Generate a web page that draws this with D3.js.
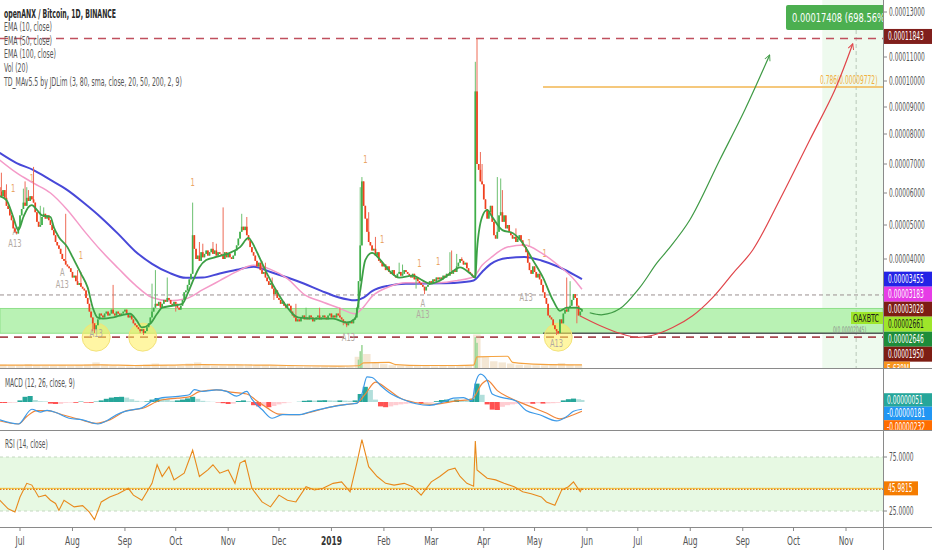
<!DOCTYPE html>
<html><head><meta charset="utf-8">
<script src="https://cdn.jsdelivr.net/npm/d3@7"></script>
<style>
html,body{margin:0;padding:0;background:#fff;}
svg{display:block;font-family:"Liberation Sans Narrow","DejaVu Sans Condensed","Liberation Sans",sans-serif;}
</style></head><body>
<svg id="c" width="932" height="550"></svg>
<script>
// ---------------- DATA (prices in satoshi = 1e-8 BTC) ----------------
const startDate = "2018-06-19";
const firstOpen = 6200;
const closes = [
6050,5900,6100,5850,5600,5500,5300,5150,4900,4800,4750,
4950,5300,5500,5700,5600,5850,5750,5900,5800,5700,
5400,5100,4950,5000,5250,5350,5200,5300,5150,5000,
4850,4700,4500,4400,4300,4150,4000,3950,3850,3800,
3750,3650,3500,3550,3400,3300,3350,3250,3200,3150,
2950,2800,2600,2450,2300,2150,2250,2400,2550,2500,
2450,2550,2600,2500,2550,2650,2550,2500,2600,2550,
2500,2550,2600,2650,2550,2450,2500,2400,2300,2250,
2200,2150,2100,2150,2050,2100,2200,2300,2450,2600,
2700,2800,2750,2850,2700,2800,2900,2850,2950,2900,
2800,2750,2850,2800,2700,2650,2750,2900,3100,3150,
3300,3450,3600,4700,4300,4000,4100,3950,4200,4050,
4150,4250,4100,4200,4300,4150,4250,4100,4200,4150,
4100,4000,4200,4050,4150,4050,4000,4100,4250,4400,
4600,4800,4950,4850,4950,4700,4550,4350,4200,4100,
3950,3800,3900,3700,3600,3650,3500,3400,3300,3350,
3200,3050,3150,2950,2900,2800,2850,2750,2700,2800,
2750,2600,2500,2450,2350,2400,2350,2450,2500,2400,
2450,2400,2500,2450,2350,2400,2450,2500,2400,2450,
2500,2450,2400,2500,2550,2450,2500,2450,2550,2500,
2450,2400,2350,2300,2250,2300,2350,2300,2400,2450,
2700,3400,4400,6400,
5600,5200,4800,4500,4400,4250,
4300,4100,4200,3950,3900,3800,3850,3700,3800,3650,
3600,3700,3550,3500,3600,3650,3550,3600,3700,3650,
3600,3550,3500,3600,3450,3500,3400,3350,3300,3250,
3150,3250,3300,3400,3350,3450,3400,3500,3450,3500,
3450,3550,3500,3600,3550,3650,3600,3700,3650,3800,
3900,4000,3950,3850,3900,3750,3650,3600,3550,3500,
9600,7000,
6800,6400,6300,5800,5500,5200,5400,5600,
5100,4700,4600,4800,5300,5400,5100,5300,4900,5000,
4800,4700,4600,4650,4500,4600,4700,4550,4400,4350,
4200,3900,3700,3600,3800,3650,3500,3600,3450,3300,
3100,2950,2800,2500,2450,2400,2250,2150,2100,2050,
2400,2300,2550,2650,2600,2700,2750,2900,3050,2950,
2750,2500,2600,2661];
const wickHighs = [[1,6700],[4,6300],[14,6150],[15,6400],[16,6200],[17,6100],[20,6900],[24,5600],[26,5550],[31,5000],[39,5350],[46,3700],[48,3650],[67,3300],[90,3334],[92,3700],[99,3500],[114,5700],[118,4500],[120,4450],[126,4500],[128,4450],[132,5550],[143,5350],[146,5250],[155,3950],[157,3900],[161,3500],[175,2800],[181,2700],[189,2700],[201,2700],[213,6200],[214,6550],[218,5400],[222,4650],[236,3900],[238,3850],[266,4200],[267,4250],[270,4150],[273,4050],[281,10800],[282,11843],[284,7400],[285,7000],[294,6550],[296,6500],[297,6100],[305,4900],[335,3500],[337,3400]];
const wickLows = [[55,2100],[56,2050],[83,2050],[85,2000],[104,2600],[162,2900],[203,2250],[205,2200],[246,3200],[251,3050],[329,2000],[330,2020],[341,2300]];

const ema10 = [[0,5900],[4,5780],[8,5250],[11,4850],[14,5250],[17,5560],[19,5620],[22,5470],[25,5300],[30,5250],[32,4930],[35,4640],[40,4350],[43,4060],[48,3607],[52,3226],[55,2700],[58,2443],[61,2420],[66,2443],[71,2495],[77,2545],[81,2368],[84,2193],[89,2292],[93,2545],[96,2700],[102,2750],[108,2800],[111,3065],[115,3497],[118,3775],[122,3970],[128,4060],[136,4180],[142,4350],[147,4620],[149,4500],[152,4200],[158,3600],[164,3100],[170,2700],[173,2545],[177,2443],[187,2420],[197,2420],[205,2320],[210,2420],[213,3145],[216,3970],[220,4180],[225,3970],[230,3690],[236,3497],[244,3550],[250,3415],[254,3334],[260,3415],[266,3607],[272,3775],[278,3607],[281,3497],[282,4265],[285,5250],[288,5470],[291,5250],[297,4850],[303,4765],[309,4470],[315,3970],[321,3497],[327,2881],[331,2621],[335,2700],[341,2700],[344,2646]];
const ema50 = [[0,7130],[10,6690],[20,6340],[30,6000],[40,5470],[50,4820],[60,4240],[70,3750],[80,3300],[90,2960],[100,2880],[110,2930],[120,3170],[130,3415],[140,3660],[150,3830],[160,3720],[170,3470],[180,3040],[190,2860],[200,2700],[210,2545],[215,2720],[220,2990],[230,3250],[240,3360],[250,3360],[260,3360],[270,3415],[280,3520],[285,3830],[290,4030],[300,4350],[310,4410],[320,4180],[330,3830],[340,3415],[344,3183]];
const ema100 = [[0,7370],[10,7030],[20,6790],[30,6450],[40,6100],[50,5680],[60,5230],[70,4740],[80,4230],[90,3870],[100,3630],[110,3490],[120,3500],[130,3610],[140,3710],[150,3790],[160,3650],[170,3500],[180,3330],[190,3140],[200,2970],[210,2890],[215,2960],[220,3130],[230,3280],[240,3330],[250,3335],[260,3345],[270,3360],[280,3420],[285,3650],[290,3860],[300,4030],[310,4060],[320,3960],[330,3790],[340,3560],[344,3455]];

// volume in millions of OAX
const volume5d = [6,5,5,7,5,4,4,5,4,5,6,10,6,4,3,3,4,6,8,5,4,4,8,10,5,4,4,5,6,7,5,5,4,4,4,3,3,3,3,3,3,3,20,25,10,7,5,4,4,4,4,3,4,5,5,4,60,20,12,10,8,6,5,5,5,7,9,6,5];
const volumeSpikes = [[212,15],[213,30],[214,41],[281,55],[282,45]];
const volMA = [[0,5],[20,5],[40,5],[60,5.5],[80,4.5],[100,5],[120,6],[140,5.5],[160,5],[180,4],[200,3.5],[212,4],[215,9],[230,10],[234,6],[250,4.5],[270,4.5],[280,5],[282,20],[300,21],[303,10],[320,6.5],[344,5.638]];

// MACD (12,26,9), satoshi
const macdLine = [[0,-447],[11,-550],[19,-181],[24,-251],[28,-207],[34,-276],[41,-406],[49,-447],[58,-550],[63,-473],[69,-318],[74,-233],[79,-189],[84,-147],[90,26],[96,111],[102,129],[108,155],[112,181],[115,310],[120,266],[128,302],[134,266],[140,147],[146,266],[149,70],[155,-189],[161,-406],[167,-318],[177,-318],[183,-251],[195,-129],[205,-59],[211,-34],[214,199],[217,628],[220,612],[225,413],[230,240],[238,70],[246,-44],[254,-85],[262,0],[268,96],[274,111],[279,26],[281,457],[284,698],[288,543],[291,199],[297,111],[305,26],[311,-214],[319,-318],[329,-473],[335,-362],[339,-233],[344,-181]];
const signalLine = [[0,-473],[11,-550],[16,-362],[22,-214],[28,-214],[37,-318],[47,-432],[57,-535],[65,-447],[75,-214],[84,-163],[95,44],[105,96],[112,129],[118,258],[128,302],[138,240],[146,199],[152,26],[158,-147],[165,-302],[177,-318],[187,-214],[201,-78],[211,-26],[216,199],[222,499],[229,328],[236,111],[246,-18],[256,-59],[270,26],[279,70],[285,457],[288,543],[294,284],[301,111],[313,-103],[323,-276],[331,-421],[339,-318],[344,-232]];
const histStep = 3;
const macdHist = [-25,-25,-20,-15,40,130,150,50,20,15,-40,-50,-45,-20,-15,-20,10,-15,-20,10,40,80,110,125,130,110,70,30,10,15,60,100,95,70,30,40,60,90,130,80,30,10,5,-10,-30,-50,-40,25,40,20,-80,-110,-100,-130,-100,-60,-30,-10,0,5,30,40,35,40,45,40,35,40,35,30,40,200,380,300,60,-110,-130,-110,-80,-60,-45,-35,-30,-30,-25,-20,20,50,60,55,60,45,40,80,460,180,-60,-190,-200,-120,-80,-60,-45,-40,-35,-45,-30,-40,-35,-30,-20,40,70,85,70];
const histLast = [344,51];

// RSI (14)
const rsi = [[0,35],[5,27],[9,24],[12,38],[16,50.6],[19,49],[23,38],[27,39.7],[30,35],[33,32],[35,25.6],[38,35],[44,28.8],[49,30],[53,24],[56,17],[60,33.4],[65,38],[70,41],[76,46],[79,39.7],[84,35],[90,50.6],[93,67.8],[96,56.9],[100,66],[103,53.8],[109,60],[114,81.3],[118,56.9],[123,63],[126,67.8],[130,60],[135,63],[139,50.6],[142,69.4],[145,71.9],[149,46],[155,33.4],[160,28.8],[165,39.7],[170,35],[175,33.4],[181,47.5],[186,44.4],[191,46],[197,50.6],[202,52],[207,42.8],[211,69.4],[214,91],[218,66],[223,56.9],[228,50.6],[233,49],[239,50.6],[244,47.5],[249,39.7],[255,52],[260,57],[265,63],[269,64.7],[272,57],[276,50.6],[280,48],[281,89.7],[282,63],[288,55.3],[293,53.8],[298,50.6],[304,47.5],[309,42.8],[314,41],[320,38],[323,33.4],[328,30.3],[332,44.4],[336,47.5],[339,52],[343,42.8],[344,45.9815]];
const rsiBands = [25, 75];

const priceTicks = [13000,11000,10000,9000,8000,7000,6000,5000,4000];
const rsiTicks = [75, 25];
const monthTicks = ["2018-07-01","2018-08-01","2018-09-01","2018-10-01","2018-11-01","2018-12-01","2019-01-01","2019-02-01","2019-03-01","2019-04-01","2019-05-01","2019-06-01","2019-07-01","2019-08-01","2019-09-01","2019-10-01","2019-11-01"];
const monthLabels = ["Jul","Aug","Sep","Oct","Nov","Dec","2019","Feb","Mar","Apr","May","Jun","Jul","Aug","Sep","Oct","Nov"];

// horizontal levels and drawings (price in satoshi, time as day offset from startDate)
const resistance = 11843, support = 1950, midLine = 3028;
const zoneLow = 2045, zoneHigh = 2680;
const fibStartDay = 321, fib0 = 2045, fib786 = 9772;
const circleDays = [57, 84.5, 330];
const greenArrow = [[348.6,2570],[356.3,2520],[366.3,2670],[378.1,3226],[388.2,3887],[394.7,4265],[407.7,5156],[425.4,7133],[440.2,8889],[454.9,11090]];
const redArrow = [[342.7,2495],[354.5,2245],[366.3,2045],[376.3,1948],[385.8,1995],[397.6,2193],[409.4,2495],[421.2,2959],[433.1,3607],[444.9,4265],[460.8,5781],[478.6,7800],[493.4,9654],[504,11600]];
const targetRangeStart = "2019-10-18", targetMidDate = "2019-11-07";
const targetText = "0.00017408 (698.56%)";
const tdLabelsA = [[9,4350,"A13"],[37,3226,"A13"],[250,2443,"A13"],[311,2881,"A13"],[206,1850,"A13"],[329,1720,"A13"],[9,4700,"A"],[37,3550,"A"],[250,2730,"A"],[57,1960,"A13"]];
const tdLabels1 = [[8,6030],[19,6380],[48,4000],[114,6250],[216,7050],[226,4470],[248,3775],[259,3830],[313,4350],[322,4060]];

const tagsMain = [
  {v:11843, bg:"#801f1c", fg:"#fff"},
  {v:3455, bg:"#2323e6", fg:"#fff"},
  {v:3183, bg:"#e63ce6", fg:"#fff"},
  {v:3028, bg:"#7d1d13", fg:"#fff"},
  {v:2661, bg:"#9ee62a", fg:"#1a1a1a"},
  {v:2646, bg:"#1e8c3a", fg:"#fff"},
  {v:1950, bg:"#7d1d13", fg:"#fff"}];
const volTag = {v:5.638, text:"5.638M", bg:"#f7941d"};
const tagsMacd = [{v:51,bg:"#26a69a"},{v:-181,bg:"#2196f3"},{v:-232,bg:"#ff6d00"}];
const rsiLast = 45.9815;

// ---------------- DRAW ----------------
const W = 932, AX = 883;
const mainTop = 0, mainBot = 368, macdTop = 368, macdBot = 430, rsiTop = 430, rsiBot = 527;
const svg = d3.select("#c");
const parse = d3.utcParse("%Y-%m-%d");
const d0 = parse(startDate);
const dayDate = i => new Date(d0.getTime() + i*86400000);
const x = d3.scaleUtc().domain([parse("2018-07-01"), parse("2019-11-01")]).range([20, 846]);
const xi = i => x(dayDate(i));
const yMain = d3.scaleLinear()
  .domain([1000,2000,3000,4000,5000,6000,7000,8000,9000,10000,11000,12000,13000,20000])
  .range([378,335,296,259,225,193,164,134,107,81,57,35,12,-140]);
const yVol = d3.scaleLinear().domain([0,50]).range([mainBot,340]);
const yMacd = d3.scaleLinear().domain([-700,850]).range([macdBot,macdTop]);
const yRsi = d3.scaleLinear().domain([0,100]).range([538,430]);
const fmt = v => (v/1e8).toFixed(8);

const defs = svg.append("defs");
function clip(id,x0,y0,w,h){defs.append("clipPath").attr("id",id).append("rect").attr("x",x0).attr("y",y0).attr("width",w).attr("height",h);}
clip("cm",0,mainTop,AX,mainBot-mainTop);
clip("cmacd",0,macdTop,AX,macdBot-macdTop);
clip("crsi",0,rsiTop,AX,rsiBot-rsiTop);
clip("cax",AX,mainTop,W-AX,mainBot-mainTop);
clip("caxm",AX,macdTop,W-AX,macdBot-macdTop);
function marker(id,color){
  defs.append("marker").attr("id",id).attr("viewBox","0 0 10 10").attr("refX",9).attr("refY",5)
   .attr("markerWidth",7).attr("markerHeight",7).attr("orient","auto-start-reverse").attr("markerUnits","userSpaceOnUse")
   .append("path").attr("d","M1,1 L9,5 L1,9").attr("fill","none").attr("stroke",color).attr("stroke-width",1.3);
}
marker("ag","#3f9a45"); marker("ar","#e0454a");

const SX = 0.55;
function txt(sel,x0,y0,str,o={}){
  const g = sel.append("g").attr("transform",`translate(${x0},${y0}) scale(${o.sx||SX},1)`);
  return g.append("text").attr("font-size",o.size||12).attr("fill",o.fill||"#555")
    .attr("font-weight",o.weight||"normal").attr("text-anchor",o.anchor||"start")
    .attr("dominant-baseline",o.base||"auto").text(str);
}

// ---- main pane ----
const gm = svg.append("g").attr("clip-path","url(#cm)");
const xTarget = x(parse(targetRangeStart));
gm.append("rect").attr("x",xTarget).attr("y",mainTop).attr("width",AX-xTarget).attr("height",mainBot).attr("fill","#eefaee");
gm.append("rect").attr("x",0).attr("y",yMain(zoneHigh)).attr("width",AX).attr("height",yMain(zoneLow)-yMain(zoneHigh))
  .attr("fill","#b9f2b4").attr("stroke","#8fe08a").attr("stroke-width",1);
gm.append("line").attr("x1",x(parse(targetMidDate))).attr("x2",x(parse(targetMidDate))).attr("y1",30).attr("y2",mainBot)
  .attr("stroke","#b8c8b8").attr("stroke-dasharray","4,3");
function hline(v,color,dash,wid,x1=0){gm.append("line").attr("x1",x1).attr("x2",AX).attr("y1",yMain(v)).attr("y2",yMain(v))
  .attr("stroke",color).attr("stroke-width",wid).attr("stroke-dasharray",dash);}
hline(midLine,"#9a8f8f","4,3",1);
hline(fib0,"#555b5b",null,1.3,xi(fibStartDay));
hline(fib786,"#f2b650",null,1.6,xi(fibStartDay));
hline(resistance,"#c0505e","8,6",1.6);
hline(support,"#a84a50","8,6",1.6);
txt(gm,xi(fibStartDay)+277,yMain(fib786)-3,"0.786(0.00009772)",{size:12,fill:"#f0b040"});
txt(gm,833,yMain(fib0)-0.3,"0(0.00002045)",{size:9,fill:"#8a8a8a"});

// volume
const barW5 = 5*1.6926;
gm.selectAll(".v5").data(volume5d).join("rect").attr("x",(d,k)=>xi(k*5)-0.5).attr("width",barW5-1)
  .attr("y",d=>yVol(d)).attr("height",d=>mainBot-yVol(d)).attr("fill","#e6c9a0").attr("opacity",0.45);
gm.selectAll(".vs").data(volumeSpikes).join("rect").attr("x",d=>xi(d[0])-0.8).attr("width",1.6)
  .attr("y",d=>yVol(d[1])).attr("height",d=>mainBot-yVol(d[1])).attr("fill","#9fd89a");
gm.append("path").datum(volMA).attr("fill","none").attr("stroke","#f5a340").attr("stroke-width",1.2)
  .attr("d",d3.line().x(d=>xi(d[0])).y(d=>yVol(d[1])).curve(d3.curveMonotoneX));

// yellow circles
gm.selectAll(".circ").data(circleDays).join("circle").attr("cx",d=>xi(d)).attr("cy",yMain(support)).attr("r",14)
  .attr("fill","rgba(255,238,90,0.55)").attr("stroke","#f3e27a").attr("stroke-width",1);

// TD labels
tdLabelsA.forEach(d=>txt(gm,xi(d[0]),yMain(d[1]),d[2],{size:10,fill:"#b3aaa3",anchor:"middle",sx:0.75}));
tdLabels1.forEach(d=>txt(gm,xi(d[0]),yMain(d[1]),"1",{size:10,fill:"#eaa565",anchor:"middle",sx:0.75}));

// EMAs
const lineGen = d3.line().x(d=>xi(d[0])).y(d=>yMain(d[1])).curve(d3.curveMonotoneX);
gm.append("path").datum(ema100).attr("fill","none").attr("stroke","#4848d8").attr("stroke-width",2).attr("d",lineGen);
gm.append("path").datum(ema50).attr("fill","none").attr("stroke","#f49ac8").attr("stroke-width",1.5).attr("d",lineGen);

// candles
const hiMap = new Map(wickHighs), loMap = new Map(wickLows);
const candles = closes.map((c,i)=>{const o = i===0?firstOpen:closes[i-1];
  return {i,o,c,h:Math.max(o,c,hiMap.get(i)||0),l:Math.min(o,c,loMap.get(i)||Infinity)};});
const cg = gm.append("g");
cg.selectAll("line").data(candles).join("line").attr("x1",d=>xi(d.i)).attr("x2",d=>xi(d.i))
  .attr("y1",d=>yMain(d.h)).attr("y2",d=>yMain(d.l)).attr("stroke",d=>d.c>=d.o?"#6cc070":"#ee6a55").attr("stroke-width",1);
cg.selectAll("rect").data(candles).join("rect").attr("x",d=>xi(d.i)-0.85).attr("width",1.7)
  .attr("y",d=>yMain(Math.max(d.o,d.c))).attr("height",d=>Math.max(1.2,yMain(Math.min(d.o,d.c))-yMain(Math.max(d.o,d.c))))
  .attr("fill",d=>d.c>=d.o?"#3fae49":"#f0401e");
gm.append("path").datum(ema10).attr("fill","none").attr("stroke","#3c9f45").attr("stroke-width",1.8).attr("d",lineGen);

// arrows
const arrowGen = d3.line().x(d=>xi(d[0])).y(d=>yMain(d[1])).curve(d3.curveCatmullRom);
gm.append("path").datum(greenArrow).attr("fill","none").attr("stroke","#3f9a45").attr("stroke-width",1.2).attr("marker-end","url(#ag)").attr("d",arrowGen);
gm.append("path").datum(redArrow).attr("fill","none").attr("stroke","#e0454a").attr("stroke-width",1.2).attr("marker-end","url(#ar)").attr("d",arrowGen);

// OAXBTC symbol tag
gm.append("rect").attr("x",851).attr("y",312).attr("width",32).attr("height",12).attr("fill","#9ee62a");
txt(gm,853,322,"OAXBTC",{size:10.5,fill:"#1a1a1a",sx:0.68});

// target label
gm.append("rect").attr("x",786).attr("y",5).attr("width",110).attr("height",25).attr("rx",2).attr("fill","#4caf50");
txt(gm,792,22,targetText,{size:13,fill:"#fff",sx:0.71});

// header
txt(svg,4,18,"openANX / Bitcoin, 1D, BINANCE",{size:12.5,fill:"#2a2a2a",weight:"bold"});
["EMA (10, close)","EMA (50, close)","EMA (100, close)","Vol (20)","TD_MAv5.5 by JDLim (3, 80, sma, close, 20, 50, 200, 2, 9)"]
  .forEach((s,k)=>txt(svg,4,31+k*13.7,s,{size:12.5,fill:"#555"}));

// ---- MACD pane ----
const gmacd = svg.append("g").attr("clip-path","url(#cmacd)");
const hist = macdHist.map((v,k)=>[k*histStep,v]).concat([histLast]);
const hw = histStep*1.6926;
gmacd.selectAll("rect").data(hist).join("rect")
  .attr("x",d=>xi(d[0])-hw/2).attr("width",hw)
  .attr("y",d=>Math.min(yMacd(0),yMacd(d[1]))).attr("height",d=>Math.abs(yMacd(d[1])-yMacd(0)))
  .attr("fill",(d,k)=>{const p = k>0?hist[k-1][1]:d[1];
     if(d[1]>=0) return d[1]>=p?"#26a69a":"#b2dfdb"; return d[1]<=p?"#ff5252":"#ffcdd2";});
const mGen = d3.line().x(d=>xi(d[0])).y(d=>yMacd(d[1])).curve(d3.curveMonotoneX);
gmacd.append("path").datum(signalLine).attr("fill","none").attr("stroke","#f0863a").attr("stroke-width",1.2).attr("d",mGen);
gmacd.append("path").datum(macdLine).attr("fill","none").attr("stroke","#3d9ae8").attr("stroke-width",1.2).attr("d",mGen);
txt(svg,5,387,"MACD (12, 26, close, 9)",{size:12,fill:"#555"});

// ---- RSI pane ----
const grsi = svg.append("g").attr("clip-path","url(#crsi)");
grsi.append("rect").attr("x",0).attr("width",AX).attr("y",yRsi(rsiBands[1])).attr("height",yRsi(rsiBands[0])-yRsi(rsiBands[1])).attr("fill","#e7f9e3");
rsiBands.forEach(b=>grsi.append("line").attr("x1",0).attr("x2",AX).attr("y1",yRsi(b)).attr("y2",yRsi(b))
  .attr("stroke","#c4d8c0").attr("stroke-dasharray","3,3"));
grsi.append("line").attr("x1",0).attr("x2",AX).attr("y1",yRsi(rsiLast)).attr("y2",yRsi(rsiLast)).attr("stroke","#f3c13a").attr("stroke-width",1);
grsi.append("line").attr("x1",0).attr("x2",AX).attr("y1",yRsi(rsiLast)+1).attr("y2",yRsi(rsiLast)+1).attr("stroke","#e8770e").attr("stroke-width",1.3).attr("stroke-dasharray","1.5,1.5");
grsi.append("path").datum(rsi).attr("fill","none").attr("stroke","#e8891c").attr("stroke-width",1.1)
  .attr("d",d3.line().x(d=>xi(d[0])).y(d=>yRsi(d[1])));
txt(svg,5,448,"RSI (14, close)",{size:12,fill:"#555"});

// ---- axes ----
svg.append("rect").attr("x",AX).attr("y",0).attr("width",W-AX).attr("height",550).attr("fill","#fff");
priceTicks.forEach(v=>{const yy=yMain(v);
  svg.append("line").attr("x1",AX).attr("x2",AX+4).attr("y1",yy).attr("y2",yy).attr("stroke","#888");
  txt(svg,AX+6,yy+4,fmt(v),{size:12,fill:"#555"});});
// stacked tags (main)
const gax = svg.append("g").attr("clip-path","url(#cax)");
let lastY = -100; const TH = 15;
tagsMain.slice().sort((a,b)=>yMain(a.v)-yMain(b.v)).forEach(t=>{
  let cy = Math.max(yMain(t.v), lastY+TH); if(t.v===11843) cy = yMain(t.v)-2; lastY = cy;
  gax.append("rect").attr("x",AX+1).attr("y",cy-TH/2).attr("width",W-AX).attr("height",TH).attr("fill",t.bg);
  txt(gax,AX+5,cy+4,fmt(t.v),{size:12,fill:t.fg});});
{ let cy = Math.max(yVol(volTag.v), lastY+TH);
  gax.append("rect").attr("x",AX+1).attr("y",cy-TH/2).attr("width",26).attr("height",TH).attr("fill",volTag.bg);
  txt(gax,AX+4,cy+4,volTag.text,{size:12,fill:"#fff"}); }
// macd tags
const gaxm = svg.append("g").attr("clip-path","url(#caxm)");
let ly2 = -100; const TH2 = 13.5;
tagsMacd.slice().sort((a,b)=>yMacd(a.v)-yMacd(b.v)).forEach(t=>{
  let cy = Math.max(yMacd(t.v), ly2+TH2); ly2 = cy;
  gaxm.append("rect").attr("x",AX+1).attr("y",cy-TH2/2).attr("width",W-AX).attr("height",TH2).attr("fill",t.bg);
  txt(gaxm,AX+4,cy+4,fmt(t.v),{size:12,fill:"#fff"});});
// rsi ticks & tag
rsiTicks.forEach(v=>{const yy=yRsi(v);
  svg.append("line").attr("x1",AX).attr("x2",AX+4).attr("y1",yy).attr("y2",yy).attr("stroke","#888");
  txt(svg,AX+6,yy+4,v.toFixed(4),{size:12,fill:"#555"});});
svg.append("rect").attr("x",AX+1).attr("y",yRsi(rsiLast)-7).attr("width",34).attr("height",14).attr("fill","#f57c00");
txt(svg,AX+5,yRsi(rsiLast)+4,rsiLast.toFixed(4),{size:12,fill:"#fff"});

// separators
svg.append("line").attr("x1",AX+0.5).attr("x2",AX+0.5).attr("y1",0).attr("y2",550).attr("stroke","#8a8a8a");
[mainBot,macdBot,rsiBot].forEach(yy=>svg.append("line").attr("x1",0).attr("x2",W).attr("y1",yy+0.5).attr("y2",yy+0.5).attr("stroke","#8a8a8a"));

// time axis
monthTicks.forEach((m,k)=>{const xx = x(parse(m));
  svg.append("line").attr("x1",xx).attr("x2",xx).attr("y1",rsiBot).attr("y2",rsiBot+4).attr("stroke","#888");
  txt(svg,xx,545,monthLabels[k],{size:12,fill:monthLabels[k]==="2019"?"#333":"#555",weight:monthLabels[k]==="2019"?"bold":"normal",anchor:"middle",sx:0.7});});
</script></body></html>
